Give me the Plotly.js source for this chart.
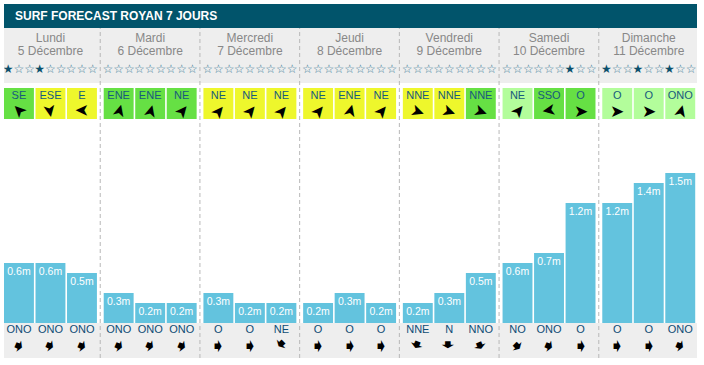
<!DOCTYPE html>
<html><head><meta charset="utf-8">
<script src="https://cdn.plot.ly/plotly-3.0.1.min.js"></script>
<style>html,body{margin:0;padding:0;background:#fff}#chart{width:704px;height:365px}</style>
</head><body><div id="chart"></div>
<script>
// ---- data ----
const days = ['Lundi','Mardi','Mercredi','Jeudi','Vendredi','Samedi','Dimanche'];
const dates = ['5 Décembre','6 Décembre','7 Décembre','8 Décembre','9 Décembre','10 Décembre','11 Décembre'];
const waveHeights = [0.6,0.6,0.5, 0.3,0.2,0.2, 0.3,0.2,0.2, 0.2,0.3,0.2, 0.2,0.3,0.5, 0.6,0.7,1.2, 1.2,1.4,1.5];
const swellDirs = ['ONO','ONO','ONO', 'ONO','ONO','ONO', 'O','O','NE', 'O','O','O', 'NNE','N','NNO', 'NO','ONO','O', 'O','O','ONO'];
const windDirs = ['SE','ESE','E', 'ENE','ENE','NE', 'NE','NE','NE', 'NE','ENE','NE', 'NNE','NNE','NNE', 'NE','SSO','O', 'O','O','ONO'];
const windArrowAngle = [-135,80,180, -75,-75,-50, -50,-50,-50, -50,-75,-50, 20,20,20, -50,170,0, 0,0,-75];
const windLevel = ['g','y','y', 'g','g','g', 'y','y','y', 'y','y','y', 'y','y','g', 'l','g','g', 'l','l','l'];
const stars = [1,1,0, 0,0,0, 0,0,0, 0,0,0, 0,0,0, 0,0,1, 1,1,1];
const compass = ['N','NNE','NE','ENE','E','ESE','SE','SSE','S','SSO','SO','OSO','O','ONO','NO','NNO'];

// ---- styling / layout constants ----
const SLOT0 = 0.15, SLOT_STEP = 0.316, SLOT_W = 0.30;
const levelColor = {g:'#66e044', y:'#eef72c', l:'#b3fd9b'};
const FONT = 'Liberation Sans, Arial, sans-serif';
const xs = waveHeights.map((_, i) => Math.floor(i / 3) + SLOT0 + SLOT_STEP * (i % 3));
const dayX = days.map((_, d) => d + SLOT0 + SLOT_STEP);
const BOX_BASE = 2.04, BOX_H = 0.31;

const traces = [
  { type:'bar', x: xs, y: waveHeights, width: SLOT_W, marker:{color:'#63c3de', line:{width:0}}, hoverinfo:'skip' },
  { type:'bar', x: xs, y: xs.map(() => BOX_H), base: BOX_BASE, width: SLOT_W,
    marker:{color: windLevel.map(l => levelColor[l]), line:{width:0}}, hoverinfo:'skip' },
  { type:'scatter', mode:'text', x: xs, y: waveHeights.map(v => v - 0.09),
    text: waveHeights.map(v => v.toFixed(1) + 'm'), textposition:'middle center',
    textfont:{family:FONT, size:10.5, color:'#ffffff'}, hoverinfo:'skip' },
  { type:'scatter', mode:'text', x: xs, y: xs.map(() => 2.265), text: windDirs, textposition:'middle center',
    textfont:{family:FONT, size:11, color:'#175a7d'}, hoverinfo:'skip' },
  { type:'scatter', mode:'text', x: xs, y: xs.map(() => -0.075), text: swellDirs, textposition:'middle center',
    textfont:{family:FONT, size:11, color:'#0f4c75'}, hoverinfo:'skip' },
  { type:'scatter', mode:'text', x: xs, y: xs.map(() => 2.53),
    text: stars.map(s => '<span style="color:#0b4f6b">' + '★'.repeat(s) + '</span><span style="color:#3a7a96">' + '☆'.repeat(3 - s) + '</span>'),
    textposition:'middle center', textfont:{family:'DejaVu Sans', size:12, color:'#3a7a96'}, hoverinfo:'skip' },
  { type:'scatter', mode:'text', x: dayX, y: dayX.map(() => 2.84), text: days, textposition:'middle center',
    textfont:{family:FONT, size:12, color:'#888888'}, hoverinfo:'skip' },
  { type:'scatter', mode:'text', x: dayX, y: dayX.map(() => 2.715), text: dates, textposition:'middle center',
    textfont:{family:FONT, size:12, color:'#888888'}, hoverinfo:'skip' }
];

const shapes = [
  {type:'rect', xref:'paper', x0:0, x1:1, yref:'y', y0:2.95, y1:3.19, fillcolor:'#01546b', line:{width:0}, layer:'below'},
  {type:'rect', xref:'paper', x0:0, x1:1, yref:'y', y0:2.40, y1:2.95, fillcolor:'#eeeeee', line:{width:0}, layer:'below'},
  {type:'rect', xref:'paper', x0:0, x1:1, yref:'y', y0:-0.35, y1:0, fillcolor:'#eeeeee', line:{width:0}, layer:'below'}
];
for (let d = 0; d < days.length - 1; d++) {
  shapes.push({type:'line', xref:'x', x0:d + 0.965, x1:d + 0.965, yref:'y', y0:-0.35, y1:2.95,
    line:{color:'#b8b8b8', width:1, dash:'4px,3px'}, layer:'above'});
}

const annotations = [];
xs.forEach((x, i) => {
  annotations.push({x, y:2.12, xref:'x', yref:'y', text:'➤', showarrow:false, borderpad:0,
    font:{family:'DejaVu Sans', size:17, color:'#000'}, textangle: windArrowAngle[i]});
  const ang = compass.indexOf(swellDirs[i]) * 22.5 + 90;
  annotations.push({x, y:-0.22, xref:'x', yref:'y', text:'➧', showarrow:false, borderpad:0,
    font:{family:'DejaVu Sans', size:19, color:'#000'}, textangle: ang % 360});
});

const layout = {
  width:704, height:365,
  margin:{l:4, r:7, t:4, b:7, pad:0},
  paper_bgcolor:'#ffffff', plot_bgcolor:'rgba(0,0,0,0)',
  showlegend:false, hovermode:false, barmode:'overlay',
  xaxis:{range:[0, 6.95], visible:false, fixedrange:true},
  yaxis:{range:[-0.35, 3.19], visible:false, fixedrange:true},
  title:{text:'<b>SURF FORECAST ROYAN 7 JOURS</b>', font:{family:FONT, size:12, color:'#ffffff'},
    x:15/704, xref:'container', xanchor:'left', y:1 - 16/365, yref:'container', yanchor:'middle'},
  shapes, annotations
};

Plotly.newPlot('chart', traces, layout, {staticPlot:true, displayModeBar:false});
</script>
</body></html>
